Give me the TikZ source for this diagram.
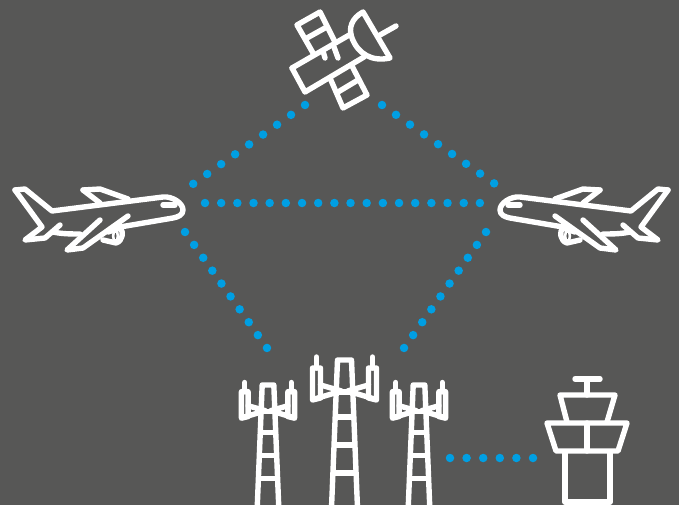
\documentclass[tikz,border=0pt]{standalone}
\definecolor{bggrey}{HTML}{575756}
\definecolor{linkblue}{HTML}{009FE3}
\tikzset{
    icon/.style={draw=white,line width=5.4pt,line join=round,line cap=round},
    dotlink/.style={draw=linkblue,line width=8.5pt,line cap=round,dash pattern=on 0pt off #1},
    plane/.pic={
        \draw [icon] (15,190) -- (25,189) -- (52,211) -- (163,197) .. controls (172,196) and (183,203) .. (183,210) .. controls (183,215) and (178,217) .. (173,218) -- (120,227);
        \draw [icon] (163,205) -- (175,205);
        \draw [icon] (15,190) -- (42,227) -- (25,240) -- (45,238) -- (60,225);
        \draw [icon] (53,232) .. controls (62,234) and (72,234) .. (80,234);
        \draw [icon] (100,220) -- (67,250) -- (83,248) -- (128,216);
        \draw [icon] (83,190) -- (100,189) -- (128,199);
        \draw [icon] (83,190) -- (100,203);
        \draw [icon] (103,240) -- (116,243) .. controls (123,241) and (124,231) .. (120,228) -- (108,232);
        \draw [icon,line width=2.6pt] (115.5,236) ellipse (2.4 and 5.2);
    },
    mast/.pic={
        \draw [icon] (-7,0) -- (7,0) -- (13,148) -- (-13,148) -- cycle;
        \foreach \y in {32,57,85,113} \draw [icon] (-9,\y) -- (9,\y);
        \foreach \s in {-1,1} {
            \draw [icon] (\s*24,8) -- (\s*32,8) -- (\s*32,40) -- (\s*24,38) -- cycle;
            \draw [icon] (\s*28,8) -- (\s*28,-3);
            \draw [icon] (\s*30,39) -- (\s*3,31) -- (\s*24,25);
        }
    },
}
\begin{document}
\begin{tikzpicture}[x=1pt,y=-1pt]
    \useasboundingbox (0,0) rectangle (679,505);
    \clip (0,0) rectangle (679,505);
    \fill [bggrey] (0,0) rectangle (679,505);
    % link ends
    \coordinate (satL) at (305,105);
    \coordinate (satR) at (382,105);
    \coordinate (planeLtop) at (193,184);
    \coordinate (planeRtop) at (495,184);
    \coordinate (planeLmid) at (205,203);
    \coordinate (planeRmid) at (480,203);
    \coordinate (planeLlow) at (185,232);
    \coordinate (planeRlow) at (486,232);
    \coordinate (mastL) at (267,348);
    \coordinate (mastR) at (404,348);
    \coordinate (mastOut) at (450,458);
    \coordinate (towerIn) at (533.5,458);
    \draw [dotlink=17.1pt] (satL) -- (planeLtop);
    \draw [dotlink=17.1pt] (satR) -- (planeRtop);
    \draw [dotlink=16.17pt] (planeLmid) -- (planeRmid);
    \draw [dotlink=15.78pt] (planeLlow) -- (mastL);
    \draw [dotlink=15.78pt] (planeRlow) -- (mastR);
    \draw [dotlink=16.6pt] (mastOut) -- (towerIn);
    % satellite
    \draw [icon] (292,68) -- (305,92) -- (364,57);
    \draw [icon] (292,68) -- (351,34);
    \draw [icon] (313,53) -- (297,25) -- (320,12) -- (335,42);
    \draw [icon] (307,38) -- (325,28);
    \draw [icon] (325,58) -- (323,51);
    \draw [icon] (338,58) -- (334,47);
    \draw [icon] (330,78) -- (343,108) -- (367,95) -- (352,66);
    \draw [icon] (338,92) -- (358,80);
    \draw [icon] (363,12) -- (390,58) .. controls (372,62) and (358,54) .. (352,38) .. controls (348,28) and (352,18) .. (363,12);
    \draw [icon] (380,35) -- (396,26);
    % planes
    \pic {plane};
    \pic [xshift=683pt,xscale=-1] {plane};
    % masts
    \pic [xshift=344.5pt,yshift=-360pt] {mast};
    \pic [xshift=268pt,yshift=-385pt,scale=.83] {mast};
    \pic [xshift=419pt,yshift=-385pt,scale=.83] {mast};
    % control tower
    \draw [icon] (575,379) -- (600,379);
    \draw [icon] (587,379) -- (587,395);
    \draw [icon] (567,422) -- (560,395) -- (615,395) -- (607,422);
    \draw [icon] (547,423) -- (627,423) -- (618,451) -- (556,451) -- cycle;
    \draw [icon] (587,423) -- (587,451);
    \draw [icon] (565,452) -- (565,502) -- (610,502) -- (610,452);
\end{tikzpicture}
\end{document}
